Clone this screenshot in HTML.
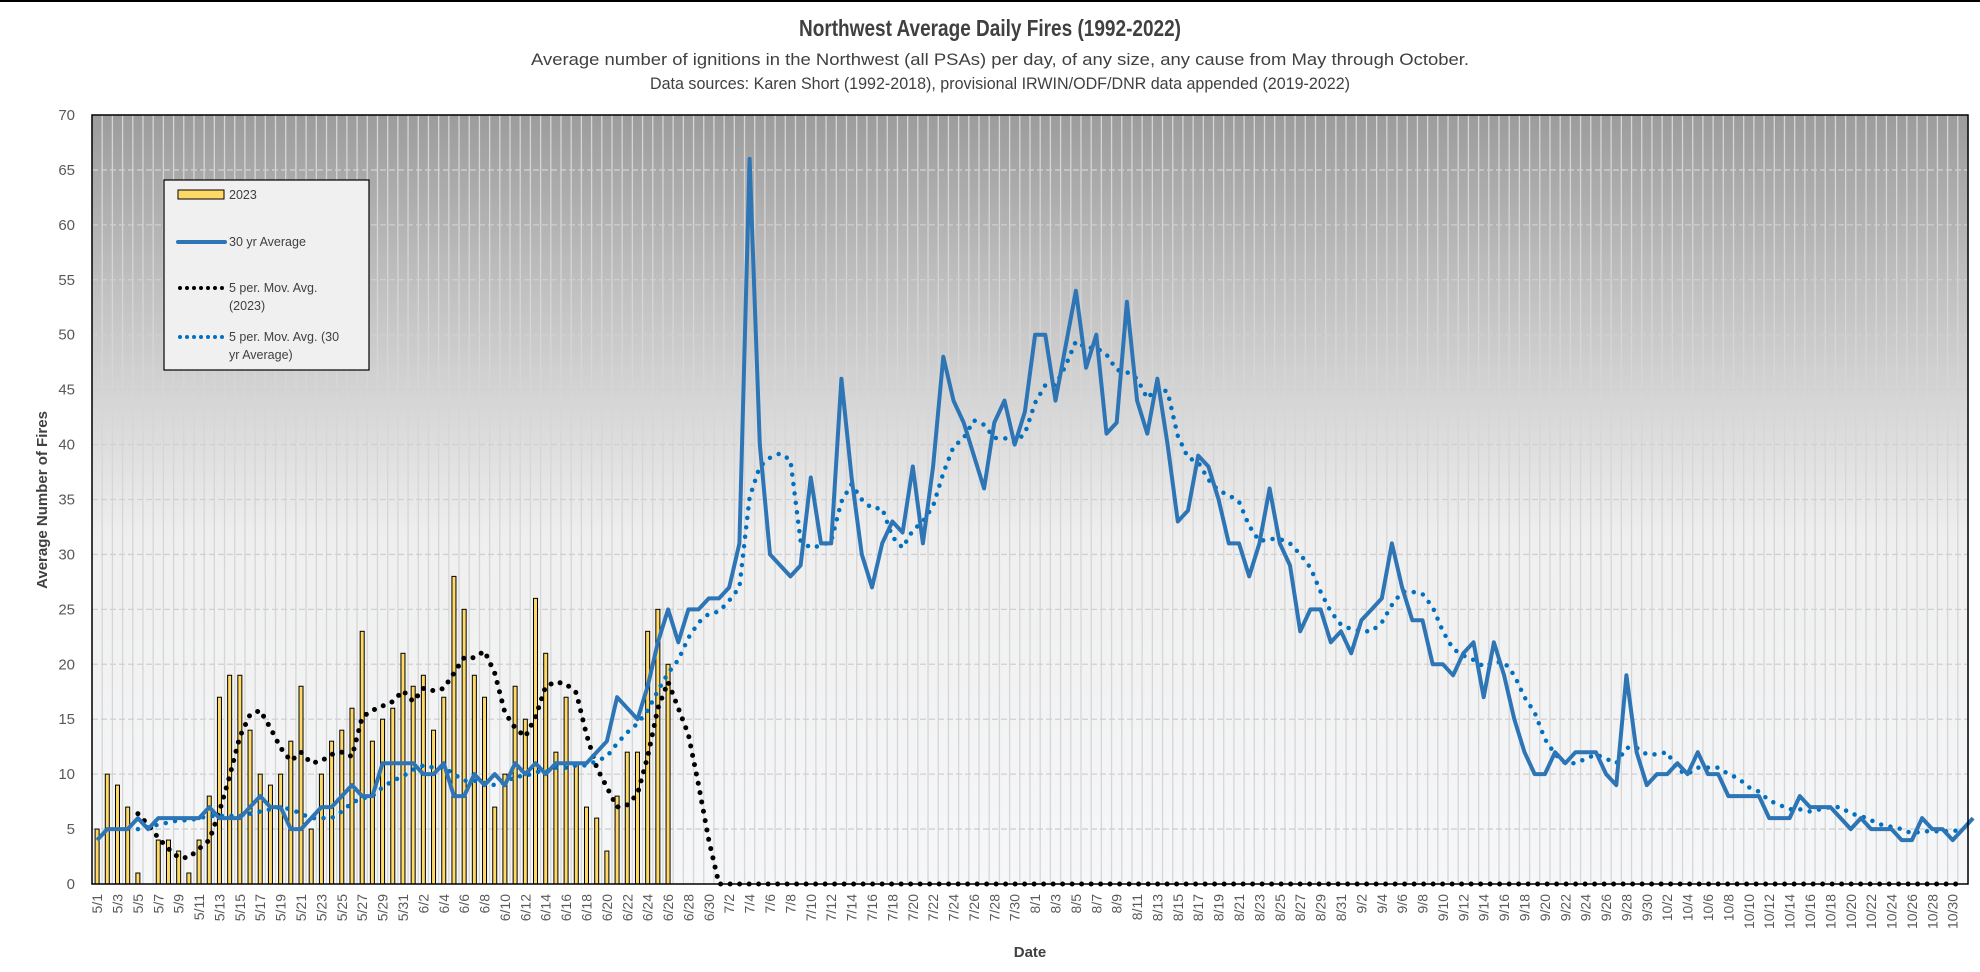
<!DOCTYPE html>
<html><head><meta charset="utf-8"><style>
html,body{margin:0;padding:0;background:#fff;}
svg{display:block;font-family:"Liberation Sans",sans-serif;}
</style></head><body>
<svg id="chart" width="1980" height="972" viewBox="0 0 1980 972" xmlns="http://www.w3.org/2000/svg">
<defs>
<linearGradient id="bg" x1="0" y1="0" x2="0" y2="1">
<stop offset="0" stop-color="#9c9c9c"/>
<stop offset="0.25" stop-color="#c4c4c4"/>
<stop offset="0.55" stop-color="#efefef"/>
<stop offset="1" stop-color="#f6f7f9"/>
</linearGradient>
</defs>
<rect x="0" y="0" width="1980" height="2" fill="#000"/>
<text x="990" y="36" text-anchor="middle" font-size="23" font-weight="bold" fill="#404040" textLength="382" lengthAdjust="spacingAndGlyphs">Northwest Average Daily Fires (1992-2022)</text>
<text x="1000" y="65" text-anchor="middle" font-size="17" fill="#404040" textLength="938" lengthAdjust="spacingAndGlyphs">Average number of ignitions in the Northwest (all PSAs) per day, of any size, any cause from May through October.</text>
<text x="1000" y="89" text-anchor="middle" font-size="17" fill="#404040" textLength="700" lengthAdjust="spacingAndGlyphs">Data sources:  Karen Short (1992-2018), provisional IRWIN/ODF/DNR data appended (2019-2022)</text>
<rect x="92" y="115" width="1876" height="769" fill="url(#bg)"/>
<g id="grid"></g>
<g id="bars"></g>
<g id="lines"></g>
<g id="axes"></g>
<text transform="translate(47,500) rotate(-90)" text-anchor="middle" font-size="15" font-weight="bold" fill="#404040">Average Number of Fires</text>
<text x="1030" y="957" text-anchor="middle" font-size="15" font-weight="bold" fill="#404040">Date</text>
<g>
<rect x="164" y="180" width="205" height="190" fill="#f0f0f0" stroke="#000" stroke-width="1.2"/>
<rect x="178" y="190" width="46" height="9" fill="#ffd966" stroke="#000" stroke-width="1"/>
<text x="229" y="199" font-size="12.5" fill="#404040">2023</text>
<line x1="178" y1="242" x2="225" y2="242" stroke="#2e75b6" stroke-width="4" stroke-linecap="round"/>
<text x="229" y="246" font-size="12.5" fill="#404040">30 yr Average</text>
<line x1="180" y1="288" x2="225" y2="288" stroke="#000" stroke-width="4" stroke-linecap="round" stroke-dasharray="0 7"/>
<text x="229" y="292" font-size="12.5" fill="#404040">5 per. Mov. Avg.</text>
<text x="229" y="310" font-size="12.5" fill="#404040">(2023)</text>
<line x1="180" y1="337" x2="225" y2="337" stroke="#0070c0" stroke-width="4" stroke-linecap="round" stroke-dasharray="0 7"/>
<text x="229" y="341" font-size="12.5" fill="#404040">5 per. Mov. Avg. (30</text>
<text x="229" y="359" font-size="12.5" fill="#404040">yr Average)</text>
</g>
</svg>
<script>
const yTicks = [0,5,10,15,20,25,30,35,40,45,50,55,60,65,70];
const bars2023 = [5,10,9,7,1,0,4,4,3,1,4,8,17,19,19,14,10,9,10,13,18,5,10,13,14,16,23,13,15,16,21,18,19,14,17,28,25,19,17,7,10,18,15,26,21,12,17,11,7,6,3,8,12,12,23,25,20];
const avg30 = [4,5,5,5,6,5,6,6,6,6,6,7,6,6,6,7,8,7,7,5,5,6,7,7,8,9,8,8,11,11,11,11,10,10,11,8,8,10,9,10,9,11,10,11,10,11,11,11,11,12,13,17,16,15,18,22,25,22,25,25,26,26,27,31,66,40,30,29,28,29,37,31,31,46,37,30,27,31,33,32,38,31,38,48,44,42,39,36,42,44,40,43,50,50,44,49,54,47,50,41,42,53,44,41,46,40,33,34,39,38,35,31,31,28,31,36,31,29,23,25,25,22,23,21,24,25,26,31,27,24,24,20,20,19,21,22,17,22,19,15,12,10,10,12,11,12,12,12,10,9,19,12,9,10,10,11,10,12,10,10,8,8,8,8,6,6,6,8,7,7,7,6,5,6,5,5,5,4,4,6,5,5,4,5,6];
const monthNames = [5,6,7,8,9,10];
const monthDays = [31,30,31,31,30,31];

const NS="http://www.w3.org/2000/svg";
const L=92,T=115,R=1968,B=884,N=184,YMAX=70;
const cw=(R-L)/N;
function xc(i){return L+cw*(i+0.5);}
function yv(v){return B-(v/YMAX)*(B-T);}
function mk(tag,attrs,parent){const e=document.createElementNS(NS,tag);for(const k in attrs)e.setAttribute(k,attrs[k]);parent.appendChild(e);return e;}
const labels=[];
monthNames.forEach((m,mi)=>{for(let d=1;d<=monthDays[mi];d++)labels.push(m+"/"+d);});

const grid=document.getElementById('grid');
for(let i=0;i<=N;i++){
  const ln=mk('line',{x1:L+cw*i,x2:L+cw*i,y1:T,y2:B,stroke:'#d6d6d6','stroke-width':1.3},grid);
  
  
}
const axes=document.getElementById('axes');
yTicks.forEach(t=>{
  if(t>0){const g=mk('line',{x1:L,x2:R,y1:yv(t),y2:yv(t),stroke:'#d0d0d0','stroke-width':1.3,'stroke-dasharray':'6 3'},grid);
  
  }
  const tx=mk('text',{x:L-17,y:yv(t)+5,'text-anchor':'end','font-size':15,fill:'#595959'},axes);
  tx.textContent=t;
  
  
});
const frame=mk('rect',{x:L,y:T,width:R-L,height:B-T,fill:'none',stroke:'#000','stroke-width':1.5},axes);


labels.forEach((lb,i)=>{
  if(i%2!==0)return;
  const tx=mk('text',{transform:`translate(${xc(i)+5},${B+10}) rotate(-90)`,'text-anchor':'end','font-size':14,fill:'#595959'},axes);
  tx.textContent=lb;
  
  
});

const barsG=document.getElementById('bars');
bars2023.forEach((v,i)=>{
  if(v<=0)return;
  const r=mk('rect',{x:xc(i)-2,y:yv(v),width:4,height:B-yv(v),fill:'#ffd966',stroke:'#000','stroke-width':1},barsG);
  
  
});

const linesG=document.getElementById('lines');
function ma(arr){const out=[];for(let i=4;i<N;i++){let s=0;for(let k=i-4;k<=i;k++)s+=(arr[k]||0);out.push([i,s/5]);}return out;}
function pts(p){return p.map(([i,v])=>xc(i).toFixed(1)+','+yv(v).toFixed(1)).join(' ');}
const ma23=mk('polyline',{points:pts(ma(bars2023)),fill:'none',stroke:'#000','stroke-width':5,'stroke-linecap':'round','stroke-dasharray':'0 9.5'},linesG);


const maAvg=mk('polyline',{points:pts(ma(avg30)),fill:'none',stroke:'#0070c0','stroke-width':4.5,'stroke-linecap':'round','stroke-dasharray':'0 9.5'},linesG);


const avgL=mk('polyline',{points:pts(avg30.map((v,i)=>[i,v])),fill:'none',stroke:'#2e75b6','stroke-width':4,'stroke-linejoin':'round'},linesG);


</script>
</body></html>
